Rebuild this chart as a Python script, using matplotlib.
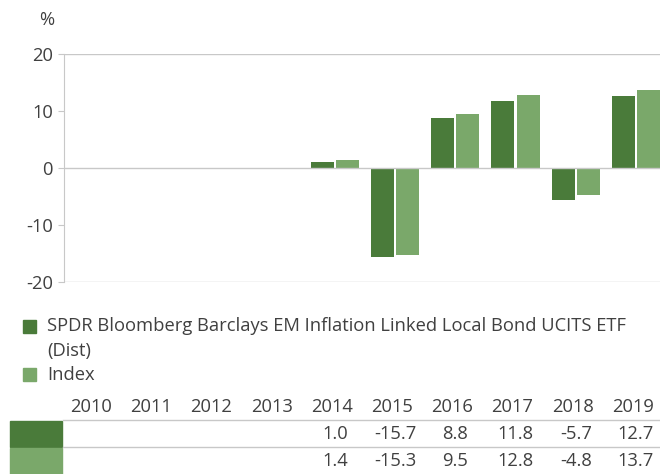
import matplotlib.pyplot as plt
import matplotlib.transforms as mtransforms
from matplotlib.patches import Rectangle
import numpy as np

plt.rcParams['font.family'] = ['Open Sans', 'DejaVu Sans']

years = ['2010', '2011', '2012', '2013', '2014', '2015', '2016', '2017', '2018', '2019']
fund = [None, None, None, None, 1.0, -15.7, 8.8, 11.8, -5.7, 12.7]
index = [None, None, None, None, 1.4, -15.3, 9.5, 12.8, -4.8, 13.7]
fund_name = 'SPDR Bloomberg Barclays EM Inflation Linked Local Bond UCITS ETF'
index_name = 'Index'

dark = '#4a7b3a'
light = '#7aa86a'
grid = '#c8c8c8'
txt = '#404040'
fs = 13.2

W, H = 660, 474
fig = plt.figure(figsize=(6.6, 4.74), dpi=100)
ax = fig.add_axes([64 / W, 1 - 282 / H, 602 / W, 228 / H])

x = np.arange(len(years))
fv = np.array([np.nan if v is None else v for v in fund])
iv = np.array([np.nan if v is None else v for v in index])
ax.bar(x - 0.208, fv, width=0.382, color=dark)
ax.bar(x + 0.208, iv, width=0.382, color=light)

ax.set_xlim(-0.5, 9.5)
ax.set_ylim(-20, 20)
ax.set_yticks([-20, -10, 0, 10, 20])
ax.set_yticklabels(['-20', '-10', '0', '10', '20'])
for y in [20, 0, -20]:
    ax.axhline(y, color=grid, lw=1, zorder=0 if y != 0 else 3)
for s in ['top', 'right', 'bottom']:
    ax.spines[s].set_visible(False)
ax.spines['left'].set_color(grid)
ax.set_xticks([])
ax.tick_params(axis='y', colors=grid, labelcolor=txt, labelsize=fs, length=4, pad=4)
fig.text(47 / W, 1 - 20 / H, '%', ha='center', va='center', fontsize=fs, color=txt)

# legend
fig.patches.append(Rectangle((23 / W, 1 - 333 / H), 13 / W, 13 / H, color=dark, transform=fig.transFigure))
fig.patches.append(Rectangle((23 / W, 1 - 381 / H), 13 / W, 13 / H, color=light, transform=fig.transFigure))
fig.text(47 / W, 1 - 326 / H, fund_name, va='center', fontsize=fs, color=txt)
fig.text(47 / W, 1 - 351 / H, '(Dist)', va='center', fontsize=fs, color=txt)
fig.text(47 / W, 1 - 375 / H, index_name, va='center', fontsize=fs, color=txt)

# table
tr = mtransforms.blended_transform_factory(ax.transData, fig.transFigure)
for i, yr in enumerate(years):
    fig.text(i - 0.05, 1 - 407 / H, yr, ha='center', va='center', fontsize=fs, color=txt, transform=tr)
    if fund[i] is not None:
        fig.text(i, 1 - 434 / H, f'{fund[i]:.1f}', ha='center', va='center', fontsize=fs, color=txt, transform=tr)
    if index[i] is not None:
        fig.text(i, 1 - 461 / H, f'{index[i]:.1f}', ha='center', va='center', fontsize=fs, color=txt, transform=tr)
for yl in [420, 447]:
    fig.add_artist(plt.Line2D([63 / W, 1], [1 - yl / H] * 2, color=grid, lw=1, transform=fig.transFigure))
fig.patches.append(Rectangle((10 / W, 1 - 447 / H), 52 / W, 26 / H, color=dark, transform=fig.transFigure))
fig.patches.append(Rectangle((10 / W, 0), 52 / W, 26 / H, color=light, transform=fig.transFigure))

fig.savefig('out.png', dpi=100)
